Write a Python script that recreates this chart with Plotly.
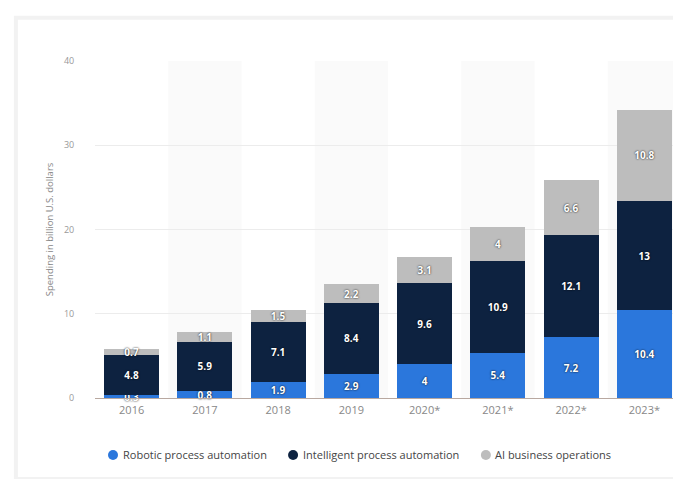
import plotly.graph_objects as go

years = ["2016", "2017", "2018", "2019", "2020*", "2021*", "2022*", "2023*"]
rpa = [0.3, 0.8, 1.9, 2.9, 4, 5.4, 7.2, 10.4]
ipa = [4.8, 5.9, 7.1, 8.4, 9.6, 10.9, 12.1, 13]
ai_ops = [0.7, 1.1, 1.5, 2.2, 3.1, 4, 6.6, 10.8]
y_ticks = [0, 10, 20, 30, 40]

series_names = ["Robotic process automation", "Intelligent process automation", "AI business operations"]
series_vals = [rpa, ipa, ai_ops]
series_colors = ["#2b77dc", "#0d2240", "#bdbdbd"]

fig = go.Figure()
for name, vals, col in zip(series_names, series_vals, series_colors):
    fig.add_trace(go.Bar(
        x=years, y=vals, name=name, marker=dict(color=col, line=dict(width=0)),
        text=[f"{v:g}" for v in vals], textposition="inside", insidetextanchor="middle",
        constraintext="none", textangle=0, cliponaxis=False,
        textfont=dict(family="Open Sans", size=10, color="white", weight="bold",
                      shadow="0px 0px 2px #000"),
        showlegend=False, hoverinfo="skip",
    ))

shapes = []
for i in range(len(years)):
    if i % 2 == 1:
        shapes.append(dict(type="rect", xref="x", yref="y", x0=i - 0.5, x1=i + 0.5,
                           y0=0, y1=40, fillcolor="#fafafa", line=dict(width=0),
                           layer="below"))
# faint card frame
shapes.append(dict(type="rect", xref="paper", yref="paper", x0=-0.135, x1=1.0,
                   y0=-0.24, y1=1.128, line=dict(color="#f2f2f2", width=4),
                   fillcolor="rgba(0,0,0,0)", layer="below"))

# custom legend (circle markers + labels)
annotations = []
leg_marker_x = [0.0307, 0.338, 0.667]
leg_y = -0.169
for name, col, mx in zip(series_names, series_colors, leg_marker_x):
    shapes.append(dict(type="circle", xref="paper", yref="paper",
                       xsizemode="pixel", ysizemode="pixel",
                       xanchor=mx, yanchor=leg_y, x0=-5, x1=5, y0=-5, y1=5,
                       fillcolor=col, line=dict(width=0)))
    annotations.append(dict(xref="paper", yref="paper", x=mx + 0.013, y=leg_y,
                            xanchor="left", yanchor="middle", showarrow=False,
                            text=name, font=dict(family="Open Sans", size=11, color="#444")))

fig.update_layout(
    width=681, height=479,
    margin=dict(l=87, r=8, t=53, b=89),
    paper_bgcolor="white", plot_bgcolor="white",
    barmode="stack", bargap=0.25,
    shapes=shapes, annotations=annotations,
    showlegend=False,
    font=dict(family="Open Sans", color="#666"),
    xaxis=dict(type="category", tickfont=dict(size=11, color="#888"),
               showgrid=False, showline=True, linecolor="#b8a8a0", linewidth=1,
               ticks="outside", ticklen=2, tickcolor="rgba(0,0,0,0)",
               range=[-0.5, 7.5]),
    yaxis=dict(range=[0, 40], tickvals=y_ticks, ticktext=[str(t) for t in y_ticks],
               tickfont=dict(size=9, color="#999"),
               showgrid=True, gridcolor="#ececec", gridwidth=1,
               zeroline=False, showline=False,
               ticks="outside", ticklen=18, tickcolor="rgba(0,0,0,0)",
               title=dict(text="Spending in billion U.S. dollars",
                          font=dict(size=9.5, color="#888"), standoff=8)),
)

fig.write_html("out.html")
